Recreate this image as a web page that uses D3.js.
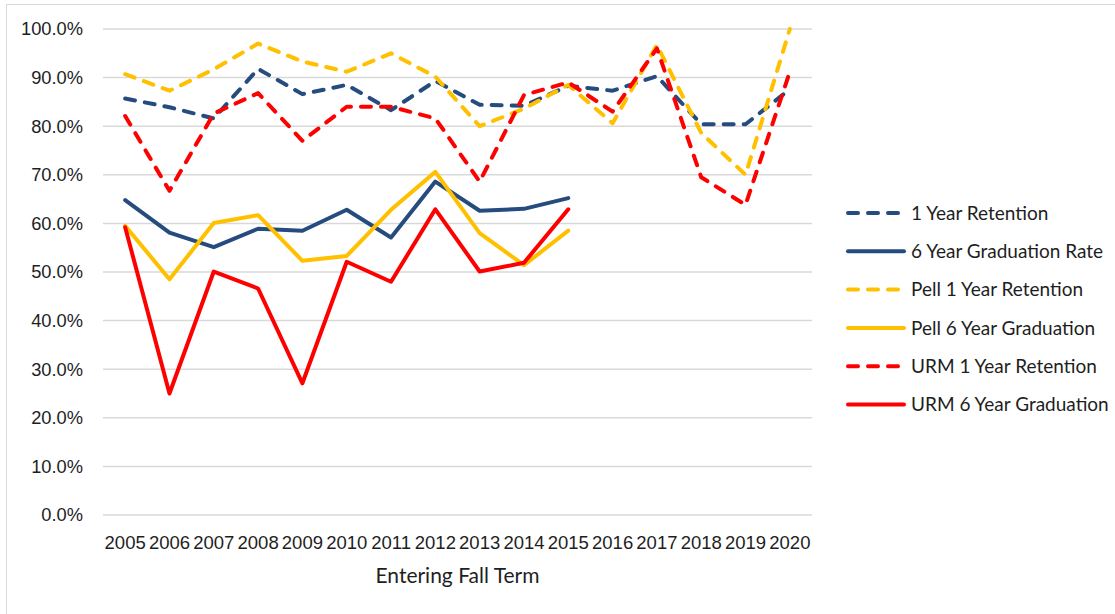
<!DOCTYPE html>
<html>
<head>
<meta charset="utf-8">
<script src="https://cdn.jsdelivr.net/npm/d3@7"></script>
<style>
  body { margin: 0; background: #fff; }
  svg { font-family: Lato, "Open Sans", sans-serif; }
</style>
</head>
<body>
<svg id="chart" width="1115" height="614"></svg>
<script>
const years = ['2005', '2006', '2007', '2008', '2009', '2010', '2011', '2012',
    '2013', '2014', '2015', '2016', '2017', '2018', '2019', '2020'];

const retention = [85.7, 83.9, 81.6, 91.8, 86.6, 88.5, 83.3, 89.3, 84.4, 84.2, 88.3, 87.3, 90.3, 80.4, 80.4, 87.6];
const gradRate = [64.8, 58.1, 55.1, 58.9, 58.5, 62.8, 57.1, 68.6, 62.6, 63.0, 65.2];
const pellRetention = [90.7, 87.3, 91.7, 97.0, 93.3, 91.2, 95.0, 90.2, 80.0, 83.6, 88.5, 80.6, 96.7, 78.6, 70.0, 100.0];
const pellGrad = [59.5, 48.5, 60.1, 61.7, 52.3, 53.3, 62.8, 70.6, 58.0, 51.4, 58.5];
const urmRetention = [82.1, 66.7, 82.6, 86.8, 77.0, 84.0, 84.0, 81.6, 68.6, 86.4, 89.0, 83.0, 96.0, 69.5, 63.8, 91.2];
const urmGrad = [59.2, 25.0, 50.1, 46.6, 27.1, 52.1, 48.0, 62.9, 50.1, 51.9, 62.9];

const yTicks = [0, 10, 20, 30, 40, 50, 60, 70, 80, 90, 100];

const series = [
    { name: '1 Year Retention', values: retention, color: '#264B7E', dashed: true },
    { name: '6 Year Graduation Rate', values: gradRate, color: '#264B7E', dashed: false },
    { name: 'Pell 1 Year Retention', values: pellRetention, color: '#FFC000', dashed: true },
    { name: 'Pell 6 Year Graduation', values: pellGrad, color: '#FFC000', dashed: false },
    { name: 'URM 1 Year Retention', values: urmRetention, color: '#FF0000', dashed: true },
    { name: 'URM 6 Year Graduation', values: urmGrad, color: '#FF0000', dashed: false }
];

const margin = { top: 29, left: 103, right: 303, bottom: 99 };
const width = 1115 - margin.left - margin.right;
const height = 614 - margin.top - margin.bottom;

const svg = d3.select('#chart');

// chart frame
svg.append('rect')
    .attr('x', 6.5).attr('y', 4.5)
    .attr('width', 1130).attr('height', 630)
    .attr('fill', 'none')
    .attr('stroke', '#D9D9D9');

const g = svg.append('g')
    .attr('transform', `translate(${margin.left},${margin.top})`);

const xScale = d3.scaleBand()
    .domain(years)
    .range([0, width]);

const yScale = d3.scaleLinear()
    .domain([0, 100])
    .range([height, 0]);

// gridlines
g.append('g')
    .selectAll('line')
    .data(yTicks)
    .join('line')
    .attr('x1', 0).attr('x2', width)
    .attr('y1', d => yScale(d)).attr('y2', d => yScale(d))
    .attr('stroke', '#D9D9D9')
    .attr('stroke-width', 1.5);

const yAxis = d3.axisLeft(yScale)
    .tickValues(yTicks)
    .tickFormat(d => d.toFixed(1) + '%')
    .tickSize(0)
    .tickPadding(20);

g.append('g')
    .attr('class', 'yAxis')
    .call(yAxis)
    .call(a => a.select('.domain').remove())
    .selectAll('text')
    .attr('font-size', 18.3)
    .attr('fill', '#1E1E1E');

const xAxis = d3.axisBottom(xScale).tickSize(0).tickPadding(20.5);

g.append('g')
    .attr('class', 'xAxis')
    .attr('transform', `translate(0,${height})`)
    .call(xAxis)
    .call(a => a.select('.domain').remove())
    .selectAll('text')
    .attr('font-size', 18.5)
    .attr('fill', '#1E1E1E');

g.append('text')
    .attr('x', width / 2)
    .attr('y', height + 67.5)
    .attr('text-anchor', 'middle')
    .attr('font-size', 21)
    .attr('fill', '#1E1E1E')
    .text('Entering Fall Term');

const line = d3.line()
    .x((d, i) => xScale(years[i]) + xScale.bandwidth() / 2)
    .y(d => yScale(d));

g.selectAll('.series-line')
    .data(series)
    .join('path')
    .attr('class', 'series-line')
    .attr('d', d => line(d.values))
    .attr('fill', 'none')
    .attr('stroke', d => d.color)
    .attr('stroke-width', 4)
    .attr('stroke-linejoin', 'round')
    .attr('stroke-linecap', 'round')
    .attr('stroke-dasharray', d => d.dashed ? '10,10' : null);

// legend
const legend = svg.append('g')
    .attr('transform', 'translate(846,213)');

const item = legend.selectAll('g')
    .data(series)
    .join('g')
    .attr('transform', (d, i) => `translate(0,${i * 38.3})`);

item.append('line')
    .attr('x1', 2).attr('x2', d => d.dashed ? 56 : 58)
    .attr('stroke', d => d.color)
    .attr('stroke-width', 4)
    .attr('stroke-linecap', 'round')
    .attr('stroke-dasharray', d => d.dashed ? '10,10' : null);

item.append('text')
    .attr('x', 65)
    .attr('dy', '0.35em')
    .attr('font-size', 19)
    .attr('fill', '#1E1E1E')
    .text(d => d.name);
</script>
</body>
</html>
